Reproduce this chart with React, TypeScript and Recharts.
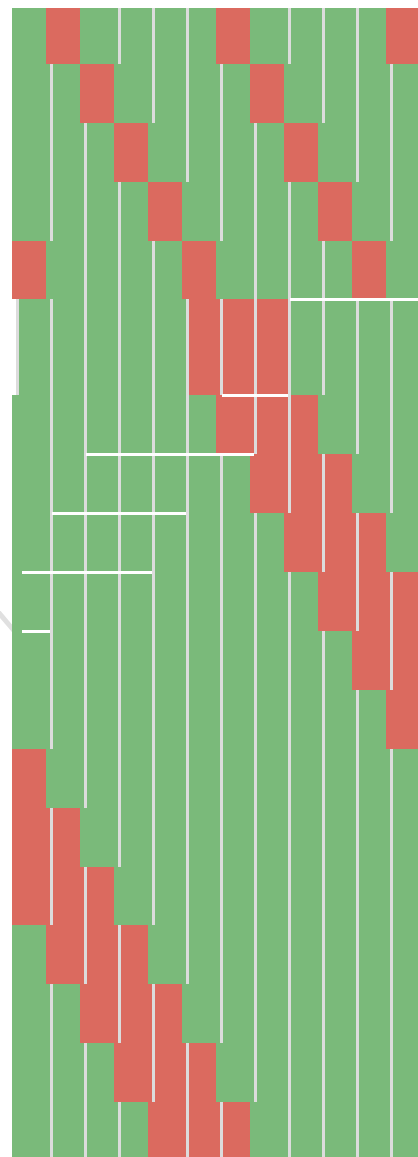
import { BarChart, Bar, XAxis, YAxis } from "recharts";

// columns of the grid (left to right)
const columns = ["1", "2", "3", "4", "5", "6", "7", "8", "9", "10", "11", "12"];

// height of each row, in row units (top to bottom)
const rowSpans = [0.95, 1, 1, 1, 1, 1.63, 1, 1, 1, 1, 1, 1, 1, 1, 1, 1, 1, 1, 1];

// which columns are red in each row (1-based)
const redCells: number[][] = [
  [2, 7, 12],
  [3, 8],
  [4, 9],
  [5, 10],
  [1, 6, 11],
  [6, 7, 8],
  [7, 8, 9],
  [8, 9, 10],
  [9, 10, 11],
  [10, 11, 12],
  [11, 12],
  [12],
  [1],
  [1, 2],
  [1, 2, 3],
  [2, 3, 4],
  [3, 4, 5],
  [4, 5, 6],
  [5, 6, 7],
];

// row drawn slightly offset (1-based)
const offsetRows = [6];

// white edge on top of a run of cells: [row, firstCol, lastCol]
const topRuns: [number, number, number][] = [
  [6, 9, 12],
  [7, 7, 8],
  [8, 3, 7],
  [9, 2, 5],
  [10, 1, 4],
  [11, 1, 1],
];

const GREEN = "#7aba7a";
const RED = "#db6a5f";
const SEP = "#dcdcdc";

const total = rowSpans.reduce((a, b) => a + b, 0);

const data = columns.map((col) => {
  const d: Record<string, number | string> = { col };
  rowSpans.forEach((s, r) => (d[`r${r}`] = s));
  return d;
});

const isRed = (r: number, c: number) => redCells[r].includes(c);

function cellShape(props: any, r: number) {
  const { x: rawX, y, width, height, payload } = props;
  const c = columns.indexOf(payload.col) + 1;
  const y0 = Math.round(height < 0 ? y + height : y);
  const y1 = Math.round((height < 0 ? y : y + height));
  const h = y1 - y0;
  const x = Math.round(rawX);
  const w = Math.round(rawX + Math.abs(width)) - x;
  const red = isRed(r, c);
  const shifted = offsetRows.includes(r + 1);
  const dx = shifted ? 7 : 0;
  const showSep = shifted ? true : c > 1 && isRed(r, c - 1) === red;

  const run = topRuns.find(([row]) => row === r + 1);
  let edge: { x1: number; x2: number } | null = null;
  if (run) {
    const [, a, b] = run;
    if (c >= a && c <= b) edge = { x1: c === a ? x + (c === 1 ? 10 : 6) : x, x2: x + w };
    else if (c === b + 1) edge = { x1: x, x2: x + 4 };
  }

  return (
    <g shapeRendering="crispEdges">
      <rect x={x + dx} y={y0} width={w} height={h} fill={red ? RED : GREEN} />
      {showSep && <rect x={x + 4} y={y0} width={3} height={h} fill={SEP} />}
      {edge && (
        <rect x={edge.x1} y={y0 - 1} width={edge.x2 - edge.x1} height={3} fill="#fff" />
      )}
    </g>
  );
}

export default function App() {
  return (
    <div
      style={{
        position: "fixed",
        left: 0,
        top: 8,
        width: 418,
        height: 1149,
        overflow: "hidden",
        background: "#fff",
      }}
    >
      <BarChart
        width={420}
        height={1153}
        data={data}
        margin={{ top: 0, right: 0, bottom: 0, left: 12 }}
        barCategoryGap={0}
        barGap={0}
      >
        <line x1={-6} y1={599} x2={16} y2={625} stroke="#e0e0e0" strokeWidth={5} />
        <XAxis dataKey="col" hide />
        <YAxis hide reversed type="number" domain={[0, total]} />
        {rowSpans.map((_, r) => (
          <Bar
            key={r}
            dataKey={`r${r}`}
            stackId="grid"
            isAnimationActive={false}
            shape={(p: any) => cellShape(p, r)}
          />
        ))}
      </BarChart>
    </div>
  );
}
